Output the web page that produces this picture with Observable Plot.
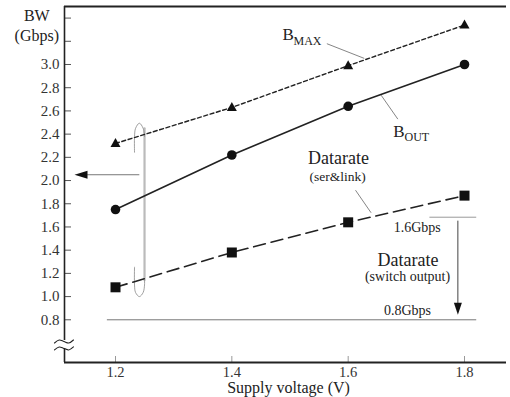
<!DOCTYPE html>
<html><head><meta charset="utf-8">
<script src="https://cdn.jsdelivr.net/npm/d3@7"></script>
<script src="https://cdn.jsdelivr.net/npm/@observablehq/plot@0.6"></script>
<style>html,body{margin:0;padding:0;background:#fff} svg{display:block} svg text{font-family:"Liberation Serif",serif !important}</style>
</head><body><div id="chart"></div>
<script>
// ---- data ----
const voltages = [1.2, 1.4, 1.6, 1.8];
const bMax     = [2.32, 2.63, 2.99, 3.34];
const bOut     = [1.75, 2.22, 2.64, 3.00];
const datarate = [1.08, 1.38, 1.64, 1.87];
const xTicks = [1.2, 1.4, 1.6, 1.8];
const yTicks = [0.8, 1.0, 1.2, 1.4, 1.6, 1.8, 2.0, 2.2, 2.4, 2.6, 2.8, 3.0, 3.2, 3.4];
const yTickLabels = ["0.8","1.0","1.2","1.4","1.6","1.8","2.0","2.2","2.4","2.6","2.8","3.0","",""];
const switchMax = 1.684;   // "1.6Gbps" level
const switchMin = 0.8;     // "0.8Gbps" level
const xDomain = [1.1123, 1.8722];
const yDomain = [0.432, 3.4998];

const rows = (vals) => voltages.map((v, i) => ({v, bw: vals[i]}));

// ---- custom symbols ----
const tri = {draw(c){c.moveTo(0,-5.5);c.lineTo(5,3.5);c.lineTo(-5,3.5);c.closePath();}};
const sq  = {draw(c){c.rect(-5,-5,10,10);}};
const headLeft = {draw(c){c.moveTo(-7,0);c.lineTo(6,-4);c.lineTo(6,4);c.closePath();}};
const headDown = {draw(c){c.moveTo(0,6);c.lineTo(-4,-6);c.lineTo(4,-6);c.closePath();}};

const font = "Liberation Serif";
const ink = "#222";
const note = (t, x, y, o = {}) => Plot.text([t], {x: [x], y: [y], text: [t], fill: ink, fontFamily: font, ...o});

const chart = Plot.plot({
  width: 510, height: 397,
  marginLeft: 64, marginRight: 4, marginTop: 6, marginBottom: 35,
  style: {fontFamily: font, background: "#fff", overflow: "visible"},
  x: {domain: xDomain},
  y: {domain: yDomain},
  marks: [
    // axes ticks (inward) and labels
    Plot.axisX({ticks: xTicks, tickSize: -6, tickFormat: () => "", stroke: "#999", label: null}),
    Plot.axisX({ticks: xTicks, tickSize: 0, tickPadding: 4, tickFormat: d => d.toFixed(1), fill: "#333", fontSize: 14.5, fontFamily: font, label: null}),
    Plot.axisY({ticks: yTicks, tickSize: -7, tickFormat: () => "", stroke: "#555", label: null}),
    Plot.axisY({ticks: yTicks, tickSize: 0, tickPadding: 5, tickFormat: (d, i) => yTickLabels[i], fill: "#333", fontSize: 15, fontFamily: font, label: null}),
    // frame: top, bottom, left (with break)
    Plot.ruleY([yDomain[1]], {stroke: ink, strokeWidth: 1.8}),
    Plot.ruleY([yDomain[0]], {stroke: ink, strokeWidth: 1.8}),
    Plot.ruleX([xDomain[0]], {y1: 0.622, y2: yDomain[1], stroke: ink, strokeWidth: 1.6}),
    Plot.ruleX([xDomain[0]], {y1: yDomain[0], y2: 0.553, stroke: ink, strokeWidth: 1.6}),
    Plot.line([[1.0951,0.600],[1.1031,0.626],[1.1114,0.613],[1.1196,0.600],[1.1277,0.626]], {curve: "catmull-rom", stroke: ink, strokeWidth: 1.1}),
    Plot.line([[1.0951,0.540],[1.1031,0.566],[1.1114,0.553],[1.1196,0.540],[1.1277,0.566]], {curve: "catmull-rom", stroke: ink, strokeWidth: 1.1}),

    // reference lines for switch output
    Plot.ruleY([switchMin], {x1: 1.186, x2: 1.821, stroke: "#777", strokeWidth: 1}),
    Plot.ruleY([switchMax], {x1: 1.7405, x2: 1.821, stroke: "#999", strokeWidth: 1}),
    Plot.ruleX([1.7886], {y1: 1.65, y2: 0.90, stroke: "#444", strokeWidth: 1}),
    Plot.dot([0], {x: [1.7886], y: [0.895], symbol: headDown, fill: "#111", stroke: "none"}),

    // ellipse grouping + left arrow
    Plot.line([[1.2499,2.45],[1.2499,1.14]], {stroke: "#bbb", strokeWidth: 2.2}),
    Plot.line([[1.2327,2.244],[1.2327,2.38],[1.2345,2.45],[1.241,2.494],[1.2475,2.45],[1.2499,2.38]], {curve: "catmull-rom", stroke: "#888", strokeWidth: 0.8}),
    Plot.line([[1.2327,1.253],[1.2327,1.10],[1.2345,1.035],[1.241,1.0],[1.2475,1.035],[1.2499,1.10],[1.2499,1.14]], {curve: "catmull-rom", stroke: "#888", strokeWidth: 0.8}),
    Plot.ruleY([2.05], {x1: 1.1519, x2: 1.2418, stroke: "#777", strokeWidth: 1}),
    Plot.dot([0], {x: [1.1415], y: [2.05], symbol: headLeft, fill: "#111", stroke: "none"}),

    // leader lines
    Plot.line([[1.564,3.178],[1.627,3.054]], {stroke: "#666", strokeWidth: 0.8}),
    Plot.line([[1.657,2.733],[1.685,2.532]], {stroke: "#666", strokeWidth: 0.8}),
    Plot.line([[1.613,1.914],[1.639,1.725]], {stroke: "#666", strokeWidth: 0.8}),

    // series
    Plot.line(rows(bMax), {x: "v", y: "bw", stroke: ink, strokeWidth: 1.4, strokeDasharray: "4,2.6"}),
    Plot.line(rows(bOut), {x: "v", y: "bw", stroke: ink, strokeWidth: 1.6}),
    Plot.line(rows(datarate), {x: "v", y: "bw", stroke: ink, strokeWidth: 1.6, strokeDasharray: "12,6"}),
    Plot.dot(rows(bMax), {x: "v", y: "bw", symbol: tri, fill: "#111", stroke: "none"}),
    Plot.dot(rows(bOut), {x: "v", y: "bw", symbol: "circle", r: 4.8, fill: "#111", stroke: "none"}),
    Plot.dot(rows(datarate), {x: "v", y: "bw", symbol: sq, fill: "#111", stroke: "none"}),

    // texts
    note("BW", 1.0647, 3.422, {fontSize: 16}),
    note("(Gbps)", 1.0647, 3.25, {fontSize: 16}),
    note("B", 1.4872, 3.262, {fontSize: 17, textAnchor: "start"}),
    note("MAX", 1.506, 3.205, {fontSize: 12, textAnchor: "start"}),
    note("B", 1.6776, 2.426, {fontSize: 17, textAnchor: "start"}),
    note("OUT", 1.6968, 2.378, {fontSize: 12, textAnchor: "start"}),
    note("Datarate", 1.5835, 2.194, {fontSize: 18}),
    note("(ser&link)", 1.582, 2.035, {fontSize: 13.5}),
    note("1.6Gbps", 1.7187, 1.598, {fontSize: 14}),
    note("Datarate", 1.703, 1.311, {fontSize: 18}),
    note("(switch output)", 1.702, 1.173, {fontSize: 14}),
    note("0.8Gbps", 1.702, 0.876, {fontSize: 14}),
    note("Supply voltage (V)", 1.4975, 0.212, {fontSize: 16})
  ]
});
document.getElementById("chart").appendChild(chart);
</script>
</body></html>
